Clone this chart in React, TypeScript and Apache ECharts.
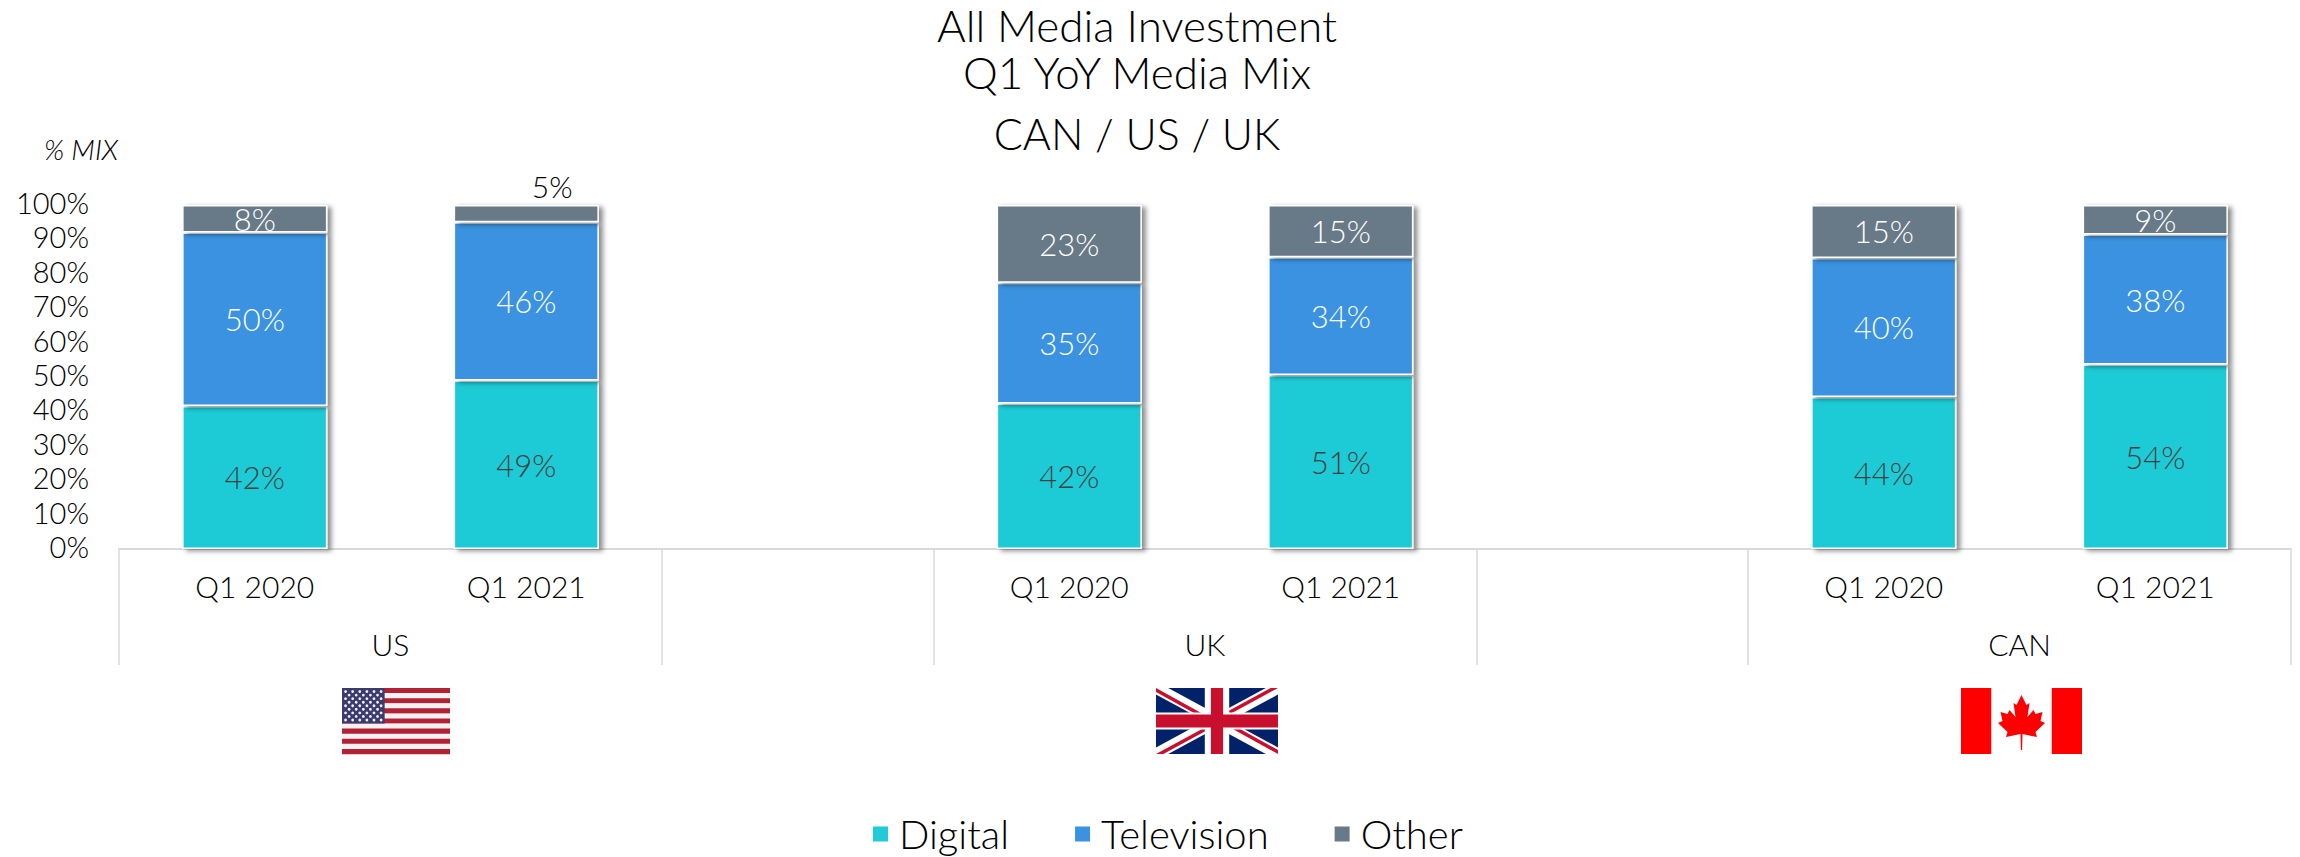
import React, { useEffect, useRef } from "react";
import * as echarts from "echarts";

const FONT = "Lato";
const categories = ["Q1 2020", "Q1 2021", "", "Q1 2020", "Q1 2021", "", "Q1 2020", "Q1 2021"];
const digital = [41.6, 49, null, 42.3, 50.6, null, 44.2, 53.6];
const television = [50.4, 46, null, 35.1, 34.2, null, 40.4, 37.8];
const other = [8, 5, null, 22.6, 15.2, null, 15.4, 8.6];
const groupLabels = ["US", "UK", "CAN"];
const groupCentres = [1, 4, 7];
const groupEdges = [0, 2, 3, 5, 6, 8];
const titleLines = ["All Media Investment", "Q1 YoY Media Mix", "CAN / US / UK"];
const COLORS = { digital: "#1ECBD6", television: "#3A92E0", other: "#687987" };

function usFlag(x: number, y: number, w: number, h: number) {
  const children: any[] = [];
  const sh = h / 13;
  for (let i = 0; i < 13; i++) {
    children.push({ type: "rect", shape: { x, y: y + i * sh, width: w, height: sh + 0.3 }, style: { fill: i % 2 ? "#F6F1F2" : "#B22234" } });
  }
  const cw = w * 0.395, ch = sh * 7;
  children.push({ type: "rect", shape: { x, y, width: cw, height: ch }, style: { fill: "#3C3B6E" } });
  for (let r = 0; r < 9; r++) {
    const n = r % 2 ? 5 : 6;
    for (let c = 0; c < n; c++) {
      const cx = x + cw * ((r % 2 ? 2 : 1) + c * 2) / 12;
      const cy = y + ch * (r + 1) / 10;
      children.push({ type: "circle", shape: { cx, cy, r: 1.4 }, style: { fill: "#F2F0F6" } });
    }
  }
  return { type: "group", silent: true, children };
}

function ukFlag(x: number, y: number, w: number, h: number) {
  const X = (u: number) => x + u * w;
  const Y = (v: number) => y + v * h;
  const band = (pts: number[][], fill: string) => ({ type: "polygon", shape: { points: pts.map(([u, v]) => [X(u), Y(v)]) }, style: { fill } });
  const dw = 0.1, dh = 0.1;
  return {
    type: "group", silent: true,
    children: [
      { type: "rect", shape: { x, y, width: w, height: h }, style: { fill: "#012169" } },
      band([[0, 0], [dw, 0], [1, 1 - dh], [1, 1], [1 - dw, 1], [0, dh]], "#FFFFFF"),
      band([[1, 0], [1 - dw, 0], [0, 1 - dh], [0, 1], [dw, 1], [1, dh]], "#FFFFFF"),
      band([[0, 0], [0.43, 0.44], [0.37, 0.44], [0, 0.06]], "#C8102E"),
      band([[1, 0], [0.6, 0.4], [0.54, 0.4], [0.94, 0]], "#C8102E"),
      band([[0, 1], [0.4, 0.6], [0.46, 0.6], [0.06, 1]], "#C8102E"),
      band([[1, 1], [0.57, 0.56], [0.63, 0.56], [1, 0.94]], "#C8102E"),
      { type: "rect", shape: { x: X(0.4), y, width: w * 0.2, height: h }, style: { fill: "#FFFFFF" } },
      { type: "rect", shape: { x, y: Y(0.37), width: w, height: h * 0.26 }, style: { fill: "#FFFFFF" } },
      { type: "rect", shape: { x: X(0.45), y, width: w * 0.1, height: h }, style: { fill: "#C8102E" } },
      { type: "rect", shape: { x, y: Y(0.4), width: w, height: h * 0.2 }, style: { fill: "#C8102E" } },
    ],
  };
}

const leafHalf = [[0, 0], [5, 10], [8, 8], [6, 22], [12, 15], [14, 19], [21, 17], [19, 26], [23.5, 28], [14, 37], [15.5, 42], [1, 39], [0.6, 55]];

function caFlag(x: number, y: number, w: number, h: number) {
  const cx = x + w / 2, top = y + 7;
  const pts = [
    ...leafHalf.map(([a, b]) => [cx + a, top + b]),
    ...leafHalf.slice(1).reverse().map(([a, b]) => [cx - a, top + b]),
  ];
  return {
    type: "group", silent: true,
    children: [
      { type: "rect", shape: { x, y, width: w * 0.25, height: h }, style: { fill: "#FF0000" } },
      { type: "rect", shape: { x: x + w * 0.75, y, width: w * 0.25, height: h }, style: { fill: "#FF0000" } },
      { type: "polygon", shape: { points: pts }, style: { fill: "#FF0000" } },
    ],
  };
}

const pct = (p: any) => (p.value == null ? "" : `${Math.round(p.value)}%`);

export default function App() {
  const ref = useRef<HTMLDivElement>(null);
  useEffect(() => {
    const chart = echarts.init(ref.current!, null, { renderer: "svg" });
    const shadow = { shadowColor: "rgba(0,0,0,0.45)", shadowBlur: 5, shadowOffsetX: 4, shadowOffsetY: 2 };
    const barBase = {
      type: "bar", stack: "mix", barWidth: "53.5%", xAxisIndex: 0, yAxisIndex: 0, clip: true,
    };
    const labelBase = { show: true, position: "inside", fontFamily: FONT, fontWeight: 300, fontSize: 31, formatter: pct };
    const titleStyle = { fontFamily: FONT, fontWeight: 300, fontSize: 44, color: "#000" };
    chart.setOption({
      animation: false,
      backgroundColor: "#fff",
      title: [
        { text: `${titleLines[0]}\n${titleLines[1]}`, left: 1137, top: 1, textAlign: "center", textStyle: { ...titleStyle, lineHeight: 47 }, padding: 0 },
        { text: titleLines[2], left: 1137, top: 133, textAlign: "center", textVerticalAlign: "middle", textStyle: { ...titleStyle, fontSize: 43 }, padding: 0 },
        { text: "% MIX", left: 44, top: 135, textStyle: { fontFamily: FONT, fontWeight: 300, fontStyle: "italic", fontSize: 28, color: "#000" }, padding: 0 },
      ],
      legend: {
        left: 866, top: 809, icon: "rect", itemWidth: 17, itemHeight: 17, itemGap: 64,
        data: ["Digital", "Television", "Other"],
        textStyle: { fontFamily: FONT, fontWeight: 300, fontSize: 40, color: "#000", padding: [0, 0, 0, 5] },
      },
      grid: { left: 119, right: 9, top: 205, bottom: 308 },
      xAxis: [
        {
          type: "category", data: categories, position: "bottom",
          axisLine: { lineStyle: { color: "#D9D9D9", width: 2 } },
          axisTick: { show: false },
          axisLabel: { interval: 0, margin: 22, fontFamily: FONT, fontWeight: 300, fontSize: 30, color: "#000" },
        },
        {
          type: "value", min: 0, max: 8, position: "bottom", splitLine: { show: false },
          axisLine: { show: false },
          axisTick: { show: true, customValues: groupEdges, length: 116, lineStyle: { color: "#D9D9D9", width: 1.5 } },
          axisLabel: {
            customValues: groupCentres, margin: 80, fontFamily: FONT, fontWeight: 300, fontSize: 30, color: "#000",
            formatter: (v: number) => groupLabels[groupCentres.indexOf(v)] ?? "",
          },
        },
      ],
      yAxis: {
        type: "value", min: 0, max: 100, interval: 10,
        axisLine: { show: false }, axisTick: { show: false }, splitLine: { show: false },
        axisLabel: {
          margin: 30,
          formatter: (v: number) => `{a|${v}%}`,
          rich: { a: { fontFamily: FONT, fontWeight: 300, fontSize: 29, color: "#000", padding: [0, 0, 5, 0] } },
        },
      },
      series: [
        { ...barBase, name: "Digital", data: digital, itemStyle: { color: COLORS.digital, borderColor: "#fff", borderWidth: 1.5, ...shadow }, label: { ...labelBase, color: "#404040" } },
        { ...barBase, name: "Television", data: television, itemStyle: { color: COLORS.television, borderColor: "#fff", borderWidth: 1.5, ...shadow }, label: { ...labelBase, color: "#fff" } },
        {
          ...barBase, name: "Other",
          data: other.map((v, i) => i === 1
            ? { value: v, label: { position: "top", offset: [26, 1], color: "#000", fontSize: 30 } }
            : v),
          itemStyle: { color: COLORS.other, borderColor: "#fff", borderWidth: 1.5, ...shadow },
          label: { ...labelBase, color: "#fff" },
        },
      ],
      graphic: [usFlag(342, 688, 108, 66), ukFlag(1156, 688, 122, 66), caFlag(1961, 688, 121, 66)],
    });
    return () => chart.dispose();
  }, []);
  return <div ref={ref} style={{ position: "fixed", left: 0, top: 0, width: 2300, height: 857 }} />;
}
